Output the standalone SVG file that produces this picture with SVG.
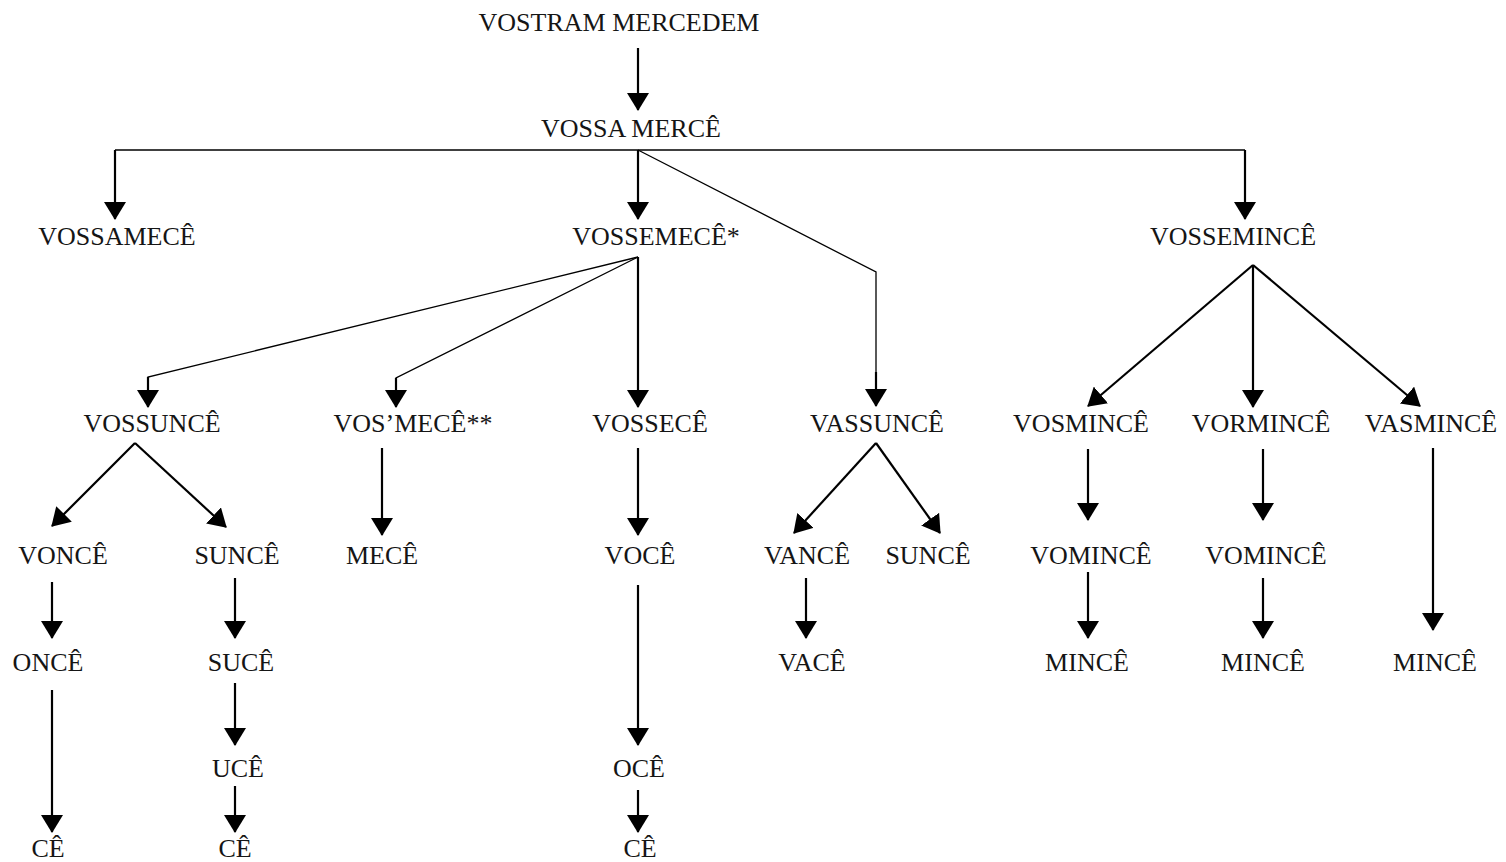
<svg xmlns="http://www.w3.org/2000/svg" width="1506" height="862" viewBox="0 0 1506 862">
<style>
text{font-family:"Liberation Serif","Times New Roman",serif;font-size:26px;fill:#151515;text-anchor:middle}
.a{stroke:#000;stroke-width:2.2;fill:none;marker-end:url(#ah)}
.t{stroke:#000;stroke-width:1.3;fill:none}
</style>
<defs>
<marker id="ah" markerUnits="userSpaceOnUse" markerWidth="18" markerHeight="22" viewBox="0 0 18 22" refX="17" refY="11" orient="auto"><path d="M0,0 L18,11 L0,22 z" fill="#000"/></marker>
</defs>
<rect width="1506" height="862" fill="#fff"/>
<g id="connectors">
<line class="a" x1="638" y1="48" x2="638" y2="110"/>
<polyline class="t" points="115,150 1245,150"/>
<line class="a" x1="115" y1="150" x2="115" y2="219"/>
<line class="a" x1="638" y1="150" x2="638" y2="219"/>
<line class="a" x1="1245" y1="150" x2="1245" y2="219"/>
<polyline class="t" points="638,150 876,272 876,380"/>
<line class="a" x1="876" y1="372" x2="876" y2="406"/>
<polyline class="t" points="638,257 148,377 148,385"/>
<line class="a" x1="148" y1="377" x2="148" y2="407"/>
<polyline class="t" points="638,257 396,378 396,385"/>
<line class="a" x1="396" y1="378" x2="396" y2="407"/>
<line class="a" x1="638" y1="257" x2="638" y2="407"/>
<line class="a" x1="1253" y1="265" x2="1088" y2="406"/>
<line class="a" x1="1253" y1="265" x2="1253" y2="407"/>
<line class="a" x1="1253" y1="265" x2="1420" y2="406"/>
<line class="a" x1="135" y1="443" x2="52" y2="526"/>
<line class="a" x1="135" y1="443" x2="226" y2="527"/>
<line class="a" x1="382" y1="448" x2="382" y2="535"/>
<line class="a" x1="638" y1="448" x2="638" y2="535"/>
<line class="a" x1="876" y1="443" x2="794" y2="533"/>
<line class="a" x1="876" y1="443" x2="940" y2="533"/>
<line class="a" x1="1088" y1="449" x2="1088" y2="520"/>
<line class="a" x1="1263" y1="449" x2="1263" y2="520"/>
<line class="a" x1="1433" y1="448" x2="1433" y2="630"/>
<line class="a" x1="52" y1="582" x2="52" y2="638"/>
<line class="a" x1="235" y1="578" x2="235" y2="638"/>
<line class="a" x1="638" y1="585" x2="638" y2="745"/>
<line class="a" x1="806" y1="578" x2="806" y2="638"/>
<line class="a" x1="1088" y1="572" x2="1088" y2="638"/>
<line class="a" x1="1263" y1="578" x2="1263" y2="638"/>
<line class="a" x1="52" y1="690" x2="52" y2="832"/>
<line class="a" x1="235" y1="683" x2="235" y2="745"/>
<line class="a" x1="235" y1="786" x2="235" y2="832"/>
<line class="a" x1="638" y1="790" x2="638" y2="832"/>
</g>
<g id="n-vostram"><text x="619" y="31">VOSTRAM MERCEDEM</text></g>
<g id="n-vossamerce"><text x="631" y="137">VOSSA MERCÊ</text></g>
<g id="n-vossamece"><text x="117" y="245">VOSSAMECÊ</text></g>
<g id="n-vossemece"><text x="656" y="245">VOSSEMECÊ*</text></g>
<g id="n-vossemince"><text x="1233" y="245">VOSSEMINCÊ</text></g>
<g id="n-vossunce"><text x="152" y="432">VOSSUNCÊ</text></g>
<g id="n-vosmece"><text x="413" y="432">VOS’MECÊ**</text></g>
<g id="n-vossece"><text x="650" y="432">VOSSECÊ</text></g>
<g id="n-vassunce"><text x="877" y="432">VASSUNCÊ</text></g>
<g id="n-vosmince"><text x="1081" y="432">VOSMINCÊ</text></g>
<g id="n-vormince"><text x="1261" y="432">VORMINCÊ</text></g>
<g id="n-vasmince"><text x="1431" y="432">VASMINCÊ</text></g>
<g id="n-vonce"><text x="63" y="564">VONCÊ</text></g>
<g id="n-sunce1"><text x="237" y="564">SUNCÊ</text></g>
<g id="n-mece"><text x="382" y="564">MECÊ</text></g>
<g id="n-voce"><text x="640" y="564">VOCÊ</text></g>
<g id="n-vance"><text x="807" y="564">VANCÊ</text></g>
<g id="n-sunce2"><text x="928" y="564">SUNCÊ</text></g>
<g id="n-vomince1"><text x="1091" y="564">VOMINCÊ</text></g>
<g id="n-vomince2"><text x="1266" y="564">VOMINCÊ</text></g>
<g id="n-once"><text x="48" y="671">ONCÊ</text></g>
<g id="n-suce"><text x="241" y="671">SUCÊ</text></g>
<g id="n-vace"><text x="812" y="671">VACÊ</text></g>
<g id="n-mince1"><text x="1087" y="671">MINCÊ</text></g>
<g id="n-mince2"><text x="1263" y="671">MINCÊ</text></g>
<g id="n-mince3"><text x="1435" y="671">MINCÊ</text></g>
<g id="n-uce"><text x="238" y="777">UCÊ</text></g>
<g id="n-oce"><text x="639" y="777">OCÊ</text></g>
<g id="n-ce1"><text x="48" y="857">CÊ</text></g>
<g id="n-ce2"><text x="235" y="857">CÊ</text></g>
<g id="n-ce3"><text x="640" y="857">CÊ</text></g>
</svg>
